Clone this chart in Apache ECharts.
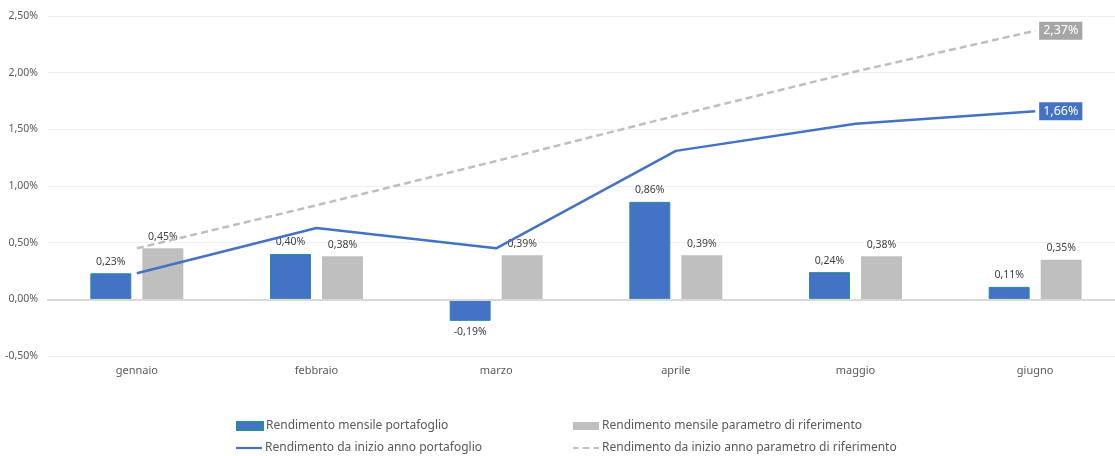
<!DOCTYPE html>
<html>
<head>
<meta charset="utf-8">
<script src="https://cdn.jsdelivr.net/npm/echarts@6/dist/echarts.min.js"></script>
<style>
html,body{margin:0;padding:0;background:#fff;overflow:hidden;}
/* il grafico originale sborda di ~10px a destra */
#chart{width:1125px;height:456px;}
</style>
</head>
<body>
<div id="chart"></div>
<script>
var mesi = ['gennaio', 'febbraio', 'marzo', 'aprile', 'maggio', 'giugno']
var mensilePortafoglio = [0.23, 0.40, -0.19, 0.86, 0.24, 0.11]
var mensileParametro = [0.45, 0.38, 0.39, 0.39, 0.38, 0.35]
var inizioAnnoPortafoglio = [0.23, 0.63, 0.45, 1.31, 1.55, 1.66]
var inizioAnnoParametro = [0.45, 0.83, 1.22, 1.62, 2.01, 2.37]

var nomi = [
    'Rendimento mensile portafoglio',
    'Rendimento mensile parametro di riferimento',
    'Rendimento da inizio anno portafoglio',
    'Rendimento da inizio anno parametro di riferimento'
]

function pct(v, d) {
    return v.toFixed(d).replace('.', ',') + '%'
}

var font = '"Noto Sans", sans-serif'
var chart = echarts.init(document.getElementById('chart'))

function legendItem(name, left, top, icon) {
    return {
        data: [name],
        left: left,
        top: top,
        icon: icon,
        itemWidth: 26,
        itemHeight: icon === 'rect' ? 8 : 10,
        itemGap: 2,
        padding: 0,
        selectedMode: false,
        textStyle: { color: '#595959', fontSize: 12, fontFamily: font, padding: [0, 0, 0, -2] }
    }
}

function endLabel(bg) {
    return {
        show: true,
        distance: 4,
        formatter: function (p) { return pct(p.value, 2) },
        backgroundColor: bg,
        color: '#fff',
        fontSize: 12.5,
        fontFamily: font,
        padding: [3, 4, 2, 4]
    }
}

var barLabel = {
    show: true,
    position: 'top',
    distance: 6,
    color: '#404040',
    fontSize: 10.5,
    fontFamily: font,
    formatter: function (p) { return pct(p.value, 2) }
}

chart.setOption({
    animation: false,
    grid: { left: 47, right: 0, top: 16, bottom: 100 },
    legend: [
        legendItem(nomi[0], 236, 420, 'rect'),
        legendItem(nomi[1], 573, 420, 'rect'),
        legendItem(nomi[2], 236, 442, 'path://M0,4 L24,4 L24,6 L0,6 Z'),
        legendItem(nomi[3], 573, 442, 'path://M0,4 L5,4 L5,6 L0,6 Z M9,4 L15,4 L15,6 L9,6 Z M19,4 L24,4 L24,6 L19,6 Z')
    ],
    xAxis: {
        type: 'category',
        data: mesi,
        axisLine: { show: false, onZero: false },
        axisTick: { show: false },
        axisLabel: { color: '#595959', fontSize: 11, fontFamily: font, margin: 9 }
    },
    yAxis: {
        type: 'value',
        min: -0.5,
        max: 2.5,
        interval: 0.5,
        axisLine: { show: false },
        axisTick: { show: false },
        splitLine: { lineStyle: { color: '#efefef', width: 1 } },
        axisLabel: {
            color: '#595959',
            fontSize: 10.5,
            fontFamily: font,
            margin: 9,
            formatter: function (v) { return pct(v, 2) }
        }
    },
    series: [
        {
            name: nomi[0],
            type: 'bar',
            data: mensilePortafoglio.map(function (v) {
                return v < 0 ? { value: v, label: { position: 'bottom' } } : v
            }),
            barWidth: '22.8%',
            barGap: '27%',
            itemStyle: { color: '#4472C4', borderColor: '#2A8C9A', borderWidth: 1 },
            label: barLabel,
            markLine: {
                silent: true,
                symbol: 'none',
                label: { show: false },
                lineStyle: { color: '#d9d9d9', width: 2, type: 'solid' },
                data: [{ yAxis: 0 }]
            }
        },
        {
            name: nomi[1],
            type: 'bar',
            data: mensileParametro,
            barWidth: '22.8%',
            itemStyle: { color: '#BFBFBF' },
            label: barLabel
        },
        {
            name: nomi[2],
            type: 'line',
            data: inizioAnnoPortafoglio,
            symbol: 'none',
            lineStyle: { color: '#4472C4', width: 2.5 },
            itemStyle: { color: '#4472C4' },
            endLabel: endLabel('#4472C4'),
            z: 5
        },
        {
            name: nomi[3],
            type: 'line',
            data: inizioAnnoParametro,
            symbol: 'none',
            lineStyle: { color: '#BFBFBF', width: 2.5, type: [7, 4] },
            itemStyle: { color: '#BFBFBF' },
            endLabel: endLabel('#A6A6A6'),
            z: 5
        }
    ]
})
</script>
</body>
</html>
